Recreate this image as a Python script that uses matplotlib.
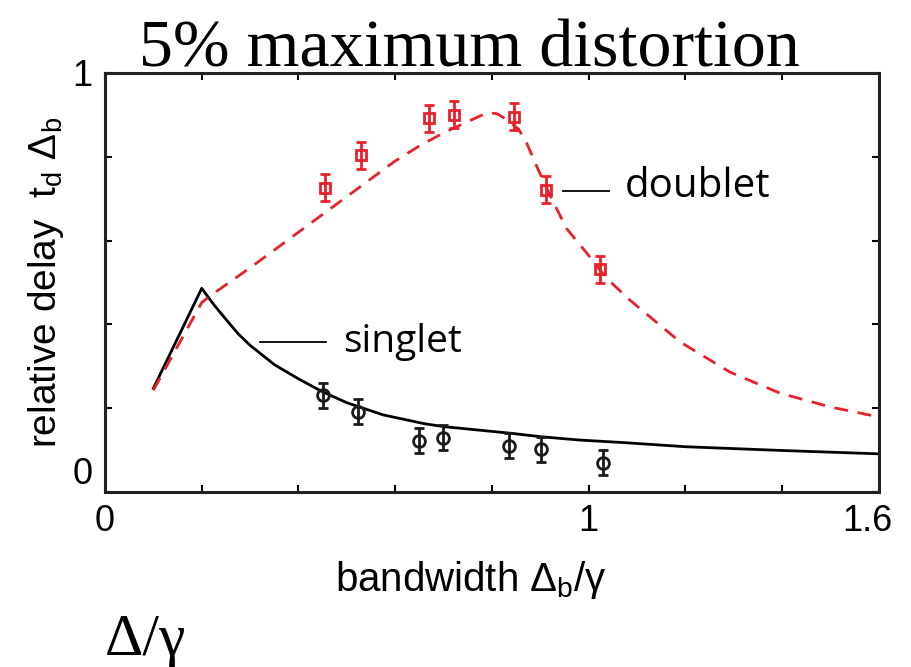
import numpy as np
import matplotlib
matplotlib.use("Agg")
import matplotlib.pyplot as plt
import matplotlib.transforms as mtransforms

plt.rcParams['font.family'] = ['Liberation Sans', 'DejaVu Sans']
plt.rcParams['mathtext.fontset'] = 'custom'
plt.rcParams['mathtext.rm'] = 'Liberation Sans'
plt.rcParams['mathtext.it'] = 'Liberation Sans:italic'

# theory curves
singlet_curve_x = [0.10, 0.20, 0.225, 0.25, 0.275, 0.30, 0.35, 0.40, 0.45, 0.50, 0.575, 0.66,
                   0.70, 0.84, 0.90, 0.98, 1.07, 1.20, 1.40, 1.60]
singlet_curve_y = [0.247, 0.486, 0.447, 0.412, 0.378, 0.350, 0.304, 0.270, 0.239, 0.213, 0.184, 0.163,
                   0.156, 0.140, 0.132, 0.124, 0.118, 0.108, 0.099, 0.091]

doublet_curve_x = [0.10, 0.20, 0.215, 0.30, 0.40, 0.50, 0.60, 0.65, 0.70, 0.75, 0.79,
                   0.81, 0.83, 0.855, 0.872, 0.896, 0.923, 0.954, 0.996, 1.037, 1.085,
                   1.189, 1.292, 1.395, 1.499, 1.60]
doublet_curve_y = [0.243, 0.452, 0.466, 0.535, 0.620, 0.705, 0.790, 0.826, 0.857, 0.884, 0.905,
                   0.903, 0.889, 0.866, 0.832, 0.768, 0.701, 0.629, 0.570, 0.510, 0.458,
                   0.358, 0.286, 0.236, 0.203, 0.179]

# measured points
singlet_x = [0.450, 0.524, 0.650, 0.699, 0.836, 0.901, 1.029]
singlet_y = [0.231, 0.192, 0.122, 0.130, 0.110, 0.102, 0.070]
singlet_err = [0.03, 0.03, 0.03, 0.03, 0.03, 0.03, 0.03]

doublet_x = [0.455, 0.529, 0.670, 0.721, 0.846, 0.912, 1.023]
doublet_y = [0.726, 0.804, 0.892, 0.900, 0.896, 0.721, 0.531]
doublet_err = [0.032, 0.032, 0.032, 0.032, 0.032, 0.032, 0.032]

x_ticks = np.arange(0, 1.61, 0.2)
x_ticklabels = ['0', '', '', '', '', '1', '', '', '1.6']
y_ticks = np.arange(0, 1.01, 0.2)
y_ticklabels = ['0', '', '', '', '', '1']

RED = '#e8212b'

fig = plt.figure(figsize=(9.12, 6.67), dpi=100)
ax = fig.add_axes([0.1151, 0.2624, 0.8487, 0.6282])

ax.plot(singlet_curve_x, singlet_curve_y, color='black', lw=2.0)
ax.plot(doublet_curve_x, doublet_curve_y, color=RED, lw=2.0, dashes=(5, 3.5))

ax.errorbar(singlet_x, singlet_y, yerr=singlet_err, fmt='o', ms=8.5, mfc='none',
            mec='#1a1a1a', mew=2.0, ecolor='#1a1a1a', elinewidth=2.0, capsize=3.5, capthick=2.0)
ax.errorbar(doublet_x, doublet_y, yerr=doublet_err, fmt='s', ms=7, mfc='none',
            mec=RED, mew=2.0, ecolor=RED, elinewidth=2.0, capsize=3.5, capthick=2.0)

# curve labels
ax.plot([0.320, 0.457], [0.358, 0.358], color='black', lw=1.3)
ax.text(0.492, 0.334, 'singlet', fontsize=28, va='baseline',
        family=['Open Sans', 'DejaVu Sans'])
ax.plot([0.947, 1.042], [0.718, 0.718], color='black', lw=1.3)
ax.text(1.075, 0.704, 'doublet', fontsize=29, va='baseline',
        family=['Open Sans', 'DejaVu Sans'])

ax.set_xlim(0, 1.6)
ax.set_ylim(0, 1)
ax.set_xticks(x_ticks)
ax.set_xticklabels(x_ticklabels)
ax.set_yticks(y_ticks)
ax.set_yticklabels(y_ticklabels)
ax.tick_params(direction='in', length=5, width=1.5, top=True, right=True,
               labelsize=26, pad=9)
for s in ax.spines.values():
    s.set_linewidth(2.2)
    s.set_color('#222222')

ylabs = ax.get_yticklabels()
ylabs[0].set_va('bottom')
ylabs[-1].set_va('center_baseline')
xlabs = ax.get_xticklabels()
shift = mtransforms.ScaledTranslation(-0.12, 0, fig.dpi_scale_trans)
xlabs[-1].set_transform(xlabs[-1].get_transform() + shift)

ax.set_xlabel('bandwidth Δ$_{\\rm b}$/γ', fontsize=29)
ax.xaxis.set_label_coords(0.473, -0.16)
ax.set_ylabel('relative delay  t$_{\\rm d}$ Δ$_{\\rm b}$', fontsize=28)
ax.yaxis.set_label_coords(-0.05, 0.5)

fig.text(0.515, 0.901, '5% maximum distortion', fontsize=49, ha='center',
         va='baseline', family=['Liberation Serif', 'DejaVu Serif'])
fig.text(0.115, 0.018, 'Δ/γ', fontsize=43, ha='left', va='baseline',
         family=['Liberation Serif', 'DejaVu Serif'])

fig.savefig('out.png', dpi=100)
